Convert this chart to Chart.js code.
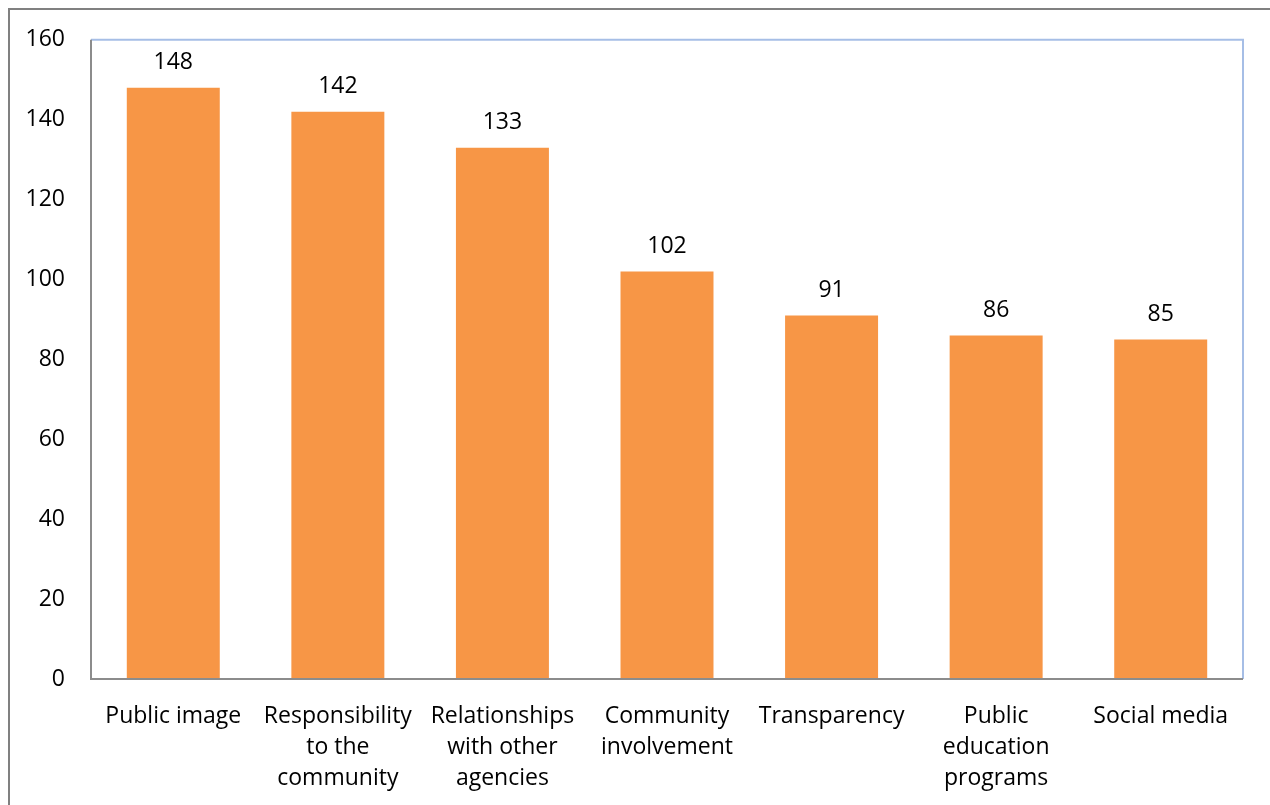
<!DOCTYPE html>
<html><head><meta charset="utf-8">
<script src="https://cdn.jsdelivr.net/npm/chart.js@4/dist/chart.umd.min.js"></script>
<style>html,body{margin:0;padding:0;background:#fff}#wrap{width:1270px;height:805px;position:relative}</style>
</head><body><div id="wrap"><canvas id="c" width="1270" height="805"></canvas></div>
<script>
const categories = [["Public image"],["Responsibility","to the","community"],["Relationships","with other","agencies"],["Community","involvement"],["Transparency"],["Public","education","programs"],["Social media"]];
const values = [148,142,133,102,91,86,85];
const yTicks = [0,20,40,60,80,100,120,140,160];
const FONT = "'Open Sans', sans-serif";
const FS = 23;

const decor = {
  id:'decor',
  beforeDraw(chart){
    const ctx = chart.ctx;
    ctx.save();
    ctx.fillStyle='#fff'; ctx.fillRect(0,0,chart.width,chart.height);
    ctx.strokeStyle='#808080'; ctx.lineWidth=2;
    ctx.strokeRect(9,9,1300,900);
    ctx.restore();
  },
  afterDatasetsDraw(chart){
    const ctx = chart.ctx, a = chart.chartArea;
    ctx.save();
    ctx.strokeStyle='#A6BEE6'; ctx.lineWidth=2;
    ctx.beginPath(); ctx.moveTo(a.left, a.top); ctx.lineTo(a.right, a.top); ctx.lineTo(a.right, a.bottom); ctx.stroke();
    ctx.strokeStyle='#8C8C8C'; ctx.lineWidth=2;
    ctx.beginPath(); ctx.moveTo(a.left, a.top); ctx.lineTo(a.left, a.bottom); ctx.lineTo(a.right, a.bottom); ctx.stroke();
    const meta = chart.getDatasetMeta(0);
    ctx.fillStyle='#000'; ctx.font=FS+'px '+FONT; ctx.textAlign='center'; ctx.textBaseline='middle';
    meta.data.forEach((b,i)=>{ ctx.fillText(String(values[i]), b.x, b.y-25); });
    ctx.restore();
  }
};

new Chart(document.getElementById('c'),{
  type:'bar',
  data:{labels:categories,datasets:[{data:values,backgroundColor:'#F79646',categoryPercentage:1,barPercentage:0.565}]},
  options:{
    responsive:false,animation:false,
    layout:{padding:{top:39,right:27,left:0,bottom:0}},
    plugins:{legend:{display:false},tooltip:{enabled:false}},
    scales:{
      x:{grid:{display:false,drawTicks:false},border:{display:false},
         ticks:{color:'#000',font:{family:FONT,size:FS,lineHeight:31/FS},padding:22,maxRotation:0,autoSkip:false},
         afterFit(s){s.height=126;}},
      y:{min:0,max:160,grid:{display:false,drawTicks:false},border:{display:false},
         afterBuildTicks(s){s.ticks=yTicks.map(v=>({value:v}));},
         ticks:{color:'#000',font:{family:FONT,size:FS},padding:26},
         afterFit(s){s.width=91;}}
    }
  },
  plugins:[decor]
});
</script></body></html>
